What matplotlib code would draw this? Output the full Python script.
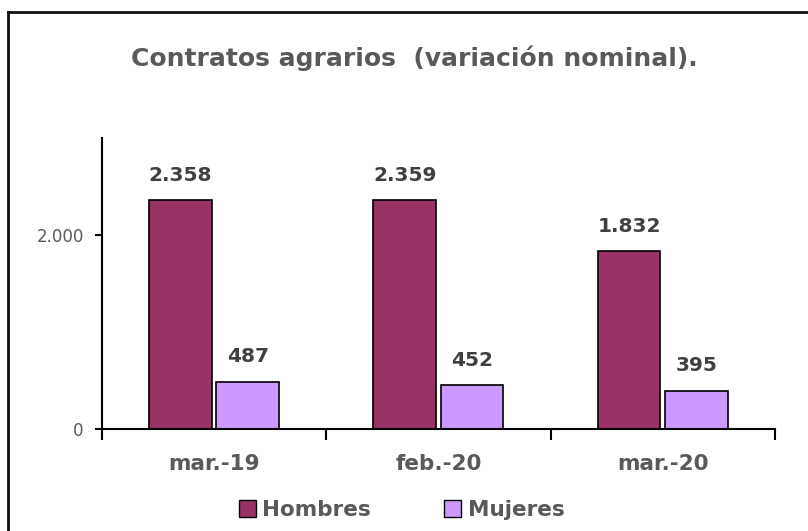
import numpy as np
import matplotlib.pyplot as plt
from matplotlib.lines import Line2D
from matplotlib.patches import Patch

categorias = ['mar.-19', 'feb.-20', 'mar.-20']
hombres = [2358, 2359, 1832]
mujeres = [487, 452, 395]
etiquetas_y = ['0', '2.000']

def fmt(v):
    return f'{v:,}'.replace(',', '.')

gris = '#595959'
c_h = '#993366'
c_m = '#CC99FF'

fig = plt.figure(figsize=(8.08, 5.31), dpi=100)
ax = fig.add_axes([0.126, 0.192, 0.833, 0.548])

x = np.arange(len(categorias))
w = 0.28
b1 = ax.bar(x - 0.15, hombres, w, color=c_h, edgecolor='black', linewidth=1.2)
b2 = ax.bar(x + 0.15, mujeres, w, color=c_m, edgecolor='black', linewidth=1.2)

for bars, vals in ((b1, hombres), (b2, mujeres)):
    for r, v in zip(bars, vals):
        ax.annotate(fmt(v), (r.get_x() + r.get_width() / 2, v), xytext=(0, 18),
                    textcoords='offset points', ha='center', va='center',
                    fontsize=14.5, fontweight='bold', color='#404040')

ax.set_xlim(-0.5, len(categorias) - 0.5)
ax.set_ylim(0, 3000)
ax.set_yticks([0, 2000])
ax.set_yticklabels(etiquetas_y, fontsize=12, color=gris)
ax.set_xticks(x)
ax.set_xticklabels(categorias, fontsize=15.5, fontweight='bold', color=gris)
ax.tick_params(axis='x', length=0, pad=18)
ax.set_xticks(np.arange(-0.5, len(categorias)), minor=True)
ax.tick_params(axis='x', which='minor', length=8, width=1.5, direction='out')
ax.tick_params(axis='y', length=5, width=1.5, pad=8)

for s in ('top', 'right'):
    ax.spines[s].set_visible(False)
for s in ('left', 'bottom'):
    ax.spines[s].set_linewidth(1.5)

fig.text(0.513, 0.891, 'Contratos agrarios  (variación nominal).', ha='center', va='center',
         fontsize=18, fontweight='bold', color=gris)

handles = [Patch(facecolor=c_h, edgecolor='black'), Patch(facecolor=c_m, edgecolor='black')]
leg = fig.legend(handles, ['Hombres', 'Mujeres'], loc='center', bbox_to_anchor=(0.497, 0.04),
                 ncol=2, frameon=False, handlelength=0.8, handleheight=0.8, handletextpad=0.3,
                 columnspacing=3.4, prop={'weight': 'bold', 'size': 15.5})
for t in leg.get_texts():
    t.set_color(gris)

# marco del gráfico (solo izquierda y arriba visibles)
fig.add_artist(Line2D([8/808, 8/808], [0, 1 - 12/531], color='#111111', lw=2, transform=fig.transFigure))
fig.add_artist(Line2D([8/808, 1], [1 - 12/531, 1 - 12/531], color='#111111', lw=2, transform=fig.transFigure))

fig.savefig('out.png', dpi=100)
